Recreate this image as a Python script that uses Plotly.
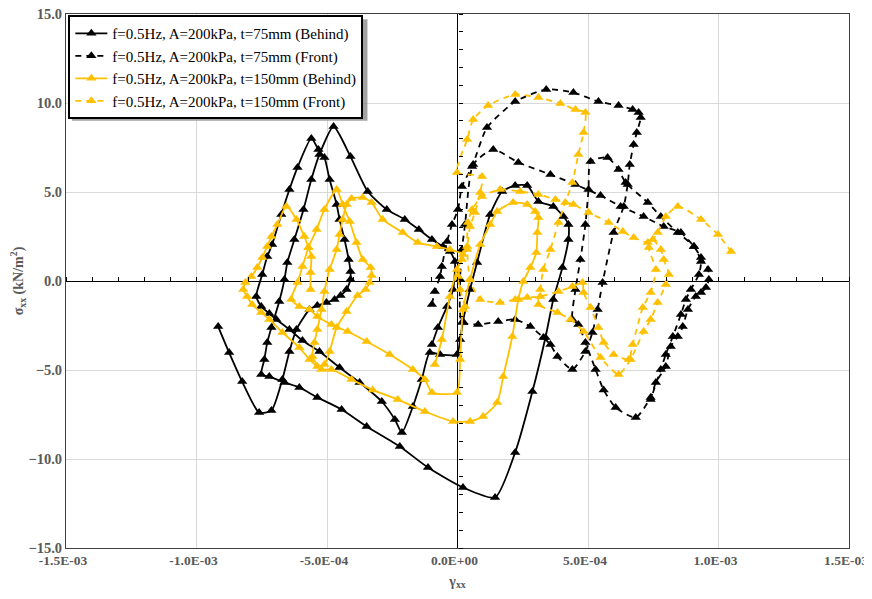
import plotly.graph_objects as go

# strain values are given in units of 1e-4 (multiplied below), stress in kN/m2
X_UNIT = 1e-4

b75_x = [-9.17,-8.75,-8.25,-7.60,-7.13,-6.71,-6.44,-6.17,-5.67,-5.37,-5.02,-4.71,-4.48,-4.25,-4.10,-4.10,-4.17,-4.33,-4.52,-4.63,
         -4.90,-5.10,-5.33,-5.60,-6.13,-6.44,-6.75,-7.10,-7.29,-7.48,-7.71,-7.52,-7.21,-6.94,-6.44,-5.94,-5.29,-4.52,-3.75,-2.90,
         -2.40,-2.13,-1.71,-1.37,-1.06,-0.67,-0.02,0.10,0.21,0.48,0.75,1.25,1.71,2.21,2.67,3.10,3.67,4.06,4.25,4.25,
         4.02,3.67,3.37,2.87,2.21,1.44,0.21,-1.13,-2.21,-3.48,-4.44,-5.37,-6.06,-6.63,-7.21,-7.52,-7.40,-7.29,-7.13,-6.83,
         -6.63,-6.52,-6.25,-5.90,-5.60,-5.29,-4.75,-4.10,-3.44,-2.71,-2.02,-1.48,-0.98,-0.56,-0.29,-0.10,-0.17,-0.40,-0.75,-0.98]
b75_y = [-2.56,-4.02,-5.65,-7.39,-7.28,-5.53,-3.96,-2.72,-1.60,-1.38,-1.21,-1.04,-0.81,-0.48,0.08,0.53,1.21,2.33,3.46,4.30,
         5.70,6.94,7.39,8.01,6.38,5.14,3.74,2.05,1.38,0.37,-0.87,-1.43,-1.83,-2.16,-2.72,-3.34,-3.96,-4.86,-5.70,-6.77,
         -7.78,-8.51,-7.05,-5.53,-4.02,-4.13,-4.13,-3.29,-2.28,-0.48,1.04,3.74,5.03,5.37,5.37,4.47,4.19,3.62,3.17,2.33,
         0.76,-1.04,-3.17,-6.21,-9.63,-12.16,-11.60,-10.48,-9.30,-8.17,-7.22,-6.54,-5.98,-5.70,-5.37,-5.25,-4.41,-3.46,-2.61,-1.15,
         0.08,1.04,2.33,4.02,5.70,7.11,8.68,6.99,5.03,4.02,3.46,2.89,2.33,1.94,1.66,1.10,-0.48,-1.43,-2.61,-3.57]

f75_x = [-0.98,-0.87,-0.67,-0.60,-0.40,-0.21,0.02,0.17,0.56,1.13,2.21,3.40,4.44,5.40,6.17,6.71,6.94,7.02,6.87,6.75,
         6.60,6.52,6.37,5.98,5.56,5.37,5.17,4.90,4.40,3.83,3.56,3.29,2.79,2.21,1.56,0.79,0.17,0.10,0.17,0.29,
         0.60,1.37,2.33,3.56,4.52,5.48,6.25,7.13,7.90,8.56,9.06,9.33,9.60,9.63,9.52,9.33,9.13,8.83,8.63,8.44,
         8.17,7.98,7.60,7.40,6.83,6.06,5.60,5.29,4.90,4.63,4.40,4.52,4.71,4.90,5.02,5.10,5.75,6.17,6.44,7.29,
         7.79,8.44,9.06,9.33,9.25,8.94,8.75,8.56,8.25,7.98,7.79,7.40]
f75_y = [-1.32,-0.59,0.25,0.81,2.22,3.17,4.02,5.31,6.43,8.62,10.08,10.76,10.59,10.08,9.86,9.63,9.47,9.19,8.34,7.67,
         6.54,5.42,4.19,2.72,-0.08,-1.60,-2.89,-3.96,-4.97,-4.24,-3.57,-3.17,-2.56,-2.16,-2.28,-2.44,-2.33,0.08,1.77,3.17,
         6.54,7.39,6.66,5.98,5.42,4.80,4.19,3.62,3.06,2.72,1.94,1.32,0.65,0.08,-0.37,-0.65,-0.87,-1.60,-2.56,-3.12,
         -3.68,-4.80,-5.70,-6.54,-7.67,-7.11,-6.12,-4.97,-3.46,-2.44,-2.16,-0.48,1.21,3.17,5.14,6.71,6.94,6.26,5.53,4.41,
         3.62,2.72,1.94,1.10,0.37,-0.48,-1.04,-1.88,-3.12,-4.13,-4.97,-6.66]

b150_x = [-5.63,-5.63,-5.60,-5.71,-5.87,-6.17,-6.56,-6.90,-7.13,-7.29,-7.48,-7.67,-7.90,-8.13,-8.21,-8.06,-7.87,-7.52,-7.21,-6.71,
          -6.06,-5.67,-5.37,-5.10,-4.90,-4.63,-4.25,-3.83,-3.52,-3.37,-3.29,-3.33,-3.63,-3.87,-4.13,-4.40,-4.63,-5.10,-5.40,-5.71,
          -5.94,-6.13,-6.37,-6.06,-5.67,-5.37,-4.83,-4.21,-3.48,-2.60,-1.71,-1.25,-0.98,-0.02,0.10,0.21,0.48,0.87,1.25,1.52,
          2.13,2.67,2.98,3.10,3.06,3.02,2.79,2.52,2.33,2.10,1.75,1.52,0.98,0.48,-0.17,-1.25,-2.29,-3.25,-4.06,-4.83,
          -5.21,-5.56,-5.48,-5.37,-5.21,-5.10,-4.90,-4.63,-4.52,-4.40,-4.25,-4.06,-3.63,-3.29,-2.87,-2.10,-1.52,-0.79,-0.29,0.21,
          -0.02,-0.29,-0.60,-0.87]
b150_y = [-0.48,0.48,1.38,1.88,2.50,3.46,4.19,3.17,2.50,1.94,1.32,0.76,0.25,-0.08,-0.48,-0.87,-1.32,-1.77,-2.16,-2.89,
          -3.74,-4.41,-4.80,-4.69,-3.96,-2.61,-1.71,-0.81,-0.48,-0.08,0.31,0.76,1.21,2.16,3.34,4.30,5.14,4.02,2.89,1.88,
          0.81,-0.08,-1.04,-1.43,-1.60,-1.99,-2.44,-2.84,-3.40,-4.13,-4.97,-5.53,-6.26,-6.26,-4.41,-1.60,0.08,2.05,3.17,3.90,
          4.41,4.30,3.90,3.57,2.72,1.60,0.76,-0.03,-1.04,-3.12,-5.37,-6.83,-7.61,-7.89,-7.89,-7.33,-6.66,-6.12,-5.53,-4.97,
          -4.97,-4.24,-3.46,-2.72,-1.60,-0.59,0.65,1.77,2.61,3.46,4.30,4.63,4.69,4.41,3.46,2.72,2.16,1.94,1.77,1.49,
          0.65,-0.87,-3.29,-4.69]

f150_x = [0.29,0.10,0.02,0.17,0.37,0.48,0.67,0.87,0.94,-0.02,0.37,0.60,1.17,2.21,3.10,3.94,4.52,4.90,4.83,4.63,
          4.40,4.13,3.87,3.56,3.29,3.17,3.10,3.83,4.33,4.83,5.48,6.17,6.63,7.13,7.40,7.67,7.98,8.10,7.90,7.79,
          7.48,7.29,6.75,6.33,5.79,5.02,4.44,3.75,3.10,2.40,1.63,0.94,0.56,0.40,0.37,0.48,0.87,1.63,2.21,2.67,
          3.17,3.87,4.40,4.79,4.83,5.10,5.40,5.60,5.98,6.56,6.71,7.10,7.40,7.60,7.33,7.67,7.98,8.44,9.33,9.98,
          10.48]
f150_y = [-1.43,-0.48,0.25,1.21,1.94,3.06,3.85,4.97,5.87,6.10,7.95,9.07,9.86,10.48,10.31,9.97,9.63,9.47,8.34,7.11,
          5.53,4.41,3.29,1.77,0.65,-0.48,-1.32,-1.77,-2.16,-2.84,-4.30,-5.25,-4.41,-2.84,-2.16,-1.21,-0.20,0.37,1.21,1.77,
          2.33,2.16,2.44,2.78,3.29,3.85,4.30,4.58,4.86,5.03,5.14,4.75,4.02,3.29,1.77,0.08,-1.04,-1.21,-1.04,-0.93,
          -0.87,-0.59,-0.31,-0.08,-0.65,-1.49,-2.61,-3.46,-4.13,-4.41,-3.57,-1.49,-0.65,0.65,1.88,2.72,3.62,4.19,3.46,2.61,
          1.66]

series_names = ["f=0.5Hz, A=200kPa, t=75mm (Behind)",
                "f=0.5Hz, A=200kPa, t=75mm (Front)",
                "f=0.5Hz, A=200kPa, t=150mm (Behind)",
                "f=0.5Hz, A=200kPa, t=150mm (Front)"]
x_tick_vals = [-1.5e-3, -1.0e-3, -5.0e-4, 0.0, 5.0e-4, 1.0e-3, 1.5e-3]
x_tick_text = ["-1.5E-03", "-1.0E-03", "-5.0E-04", "0.0E+00", "5.0E-04", "1.0E-03", "1.5E-03"]

BLACK = "#000000"
GOLD = "#FFC000"

fig = go.Figure()

def add_series(name, xs, ys, color, dash, xa, ya):
    fig.add_trace(go.Scatter(
        x=[v * X_UNIT for v in xs], y=ys, mode="lines+markers", name=name,
        line=dict(color=color, width=1.8, dash=dash, shape="spline", smoothing=0.6),
        marker=dict(symbol="triangle-up", size=9, color=color),
        xaxis=xa, yaxis=ya, hoverinfo="skip"))

add_series(series_names[0], b75_x, b75_y, BLACK, "solid", "x", "y")
add_series(series_names[1], f75_x, f75_y, BLACK, "6px,5px", "x", "y")
add_series(series_names[2], b150_x, b150_y, GOLD, "solid", "x2", "y2")
add_series(series_names[3], f150_x, f150_y, GOLD, "6px,5px", "x2", "y2")

xtick_font = dict(family="Liberation Serif", size=13.5, color="#595959", weight="bold")
ytick_font = dict(family="Liberation Serif", size=14.5, color="#595959", weight="bold")
title_font = dict(family="Liberation Serif", size=14, color="#595959", weight="bold")

# soft shadow behind the legend box (paper coordinates)
fig.add_shape(type="rect", xref="paper", yref="paper",
              x0=0.0075, x1=0.385, y0=0.800, y1=0.990,
              fillcolor="#8c8c8c", line=dict(width=0), opacity=0.8, layer="above")

# the page places the figure 8 px in from the top-left corner (body margin),
# so the figure is made smaller and the margins shifted to keep the plot area in place
fig.update_layout(
    width=864, height=583,
    margin=dict(l=58, r=23, t=6, b=43, autoexpand=False),
    paper_bgcolor="white", plot_bgcolor="white",
    font=dict(family="Liberation Serif", color="#595959"),
    showlegend=True,
    xaxis=dict(range=[-1.5e-3, 1.5e-3], tickvals=x_tick_vals, ticktext=x_tick_text,
               showgrid=True, gridcolor="#d9d9d9", gridwidth=1,
               zeroline=True, zerolinecolor="black", zerolinewidth=1,
               showline=True, linecolor="#404040", linewidth=1, mirror=True,
               ticks="", tickfont=xtick_font, automargin=True, ticklabeloverflow="allow",
               ticklabelshift=-3,
               title=dict(text="γ<sub>xx</sub>", font=title_font, standoff=8)),
    yaxis=dict(range=[-15, 15], dtick=5, tick0=0, tickformat=".1f",
               showgrid=True, gridcolor="#d9d9d9", gridwidth=1,
               zeroline=True, zerolinecolor="black", zerolinewidth=1,
               showline=True, linecolor="#404040", linewidth=1, mirror=True,
               ticks="", tickfont=ytick_font, automargin=True, ticklabeloverflow="allow",
               title=dict(text="σ<sub>xx</sub> (kN/m<sup>2</sup>)", font=title_font, standoff=18)),
    xaxis2=dict(range=[-1.5e-3, 1.5e-3], overlaying="x", anchor="free", position=0.5, side="top",
                showgrid=False, zeroline=False, showticklabels=False, showline=False, automargin=False,
                ticks="outside", ticklen=4, tickwidth=1, tickcolor="black", tick0=0, dtick=1e-4),
    yaxis2=dict(range=[-15, 15], overlaying="y", anchor="free", position=0.5, side="right",
                showgrid=False, zeroline=False, showticklabels=False, showline=False, automargin=False,
                ticks="outside", ticklen=4, tickwidth=1, tickcolor="black", tick0=0, dtick=1),
    legend=dict(x=0.003, y=0.998, xanchor="left", yanchor="top",
                bordercolor="black", borderwidth=2, bgcolor="white",
                font=dict(family="Liberation Serif", size=15, color="black"),
                itemwidth=32, tracegroupgap=0),
)

fig.write_html("out.html")
